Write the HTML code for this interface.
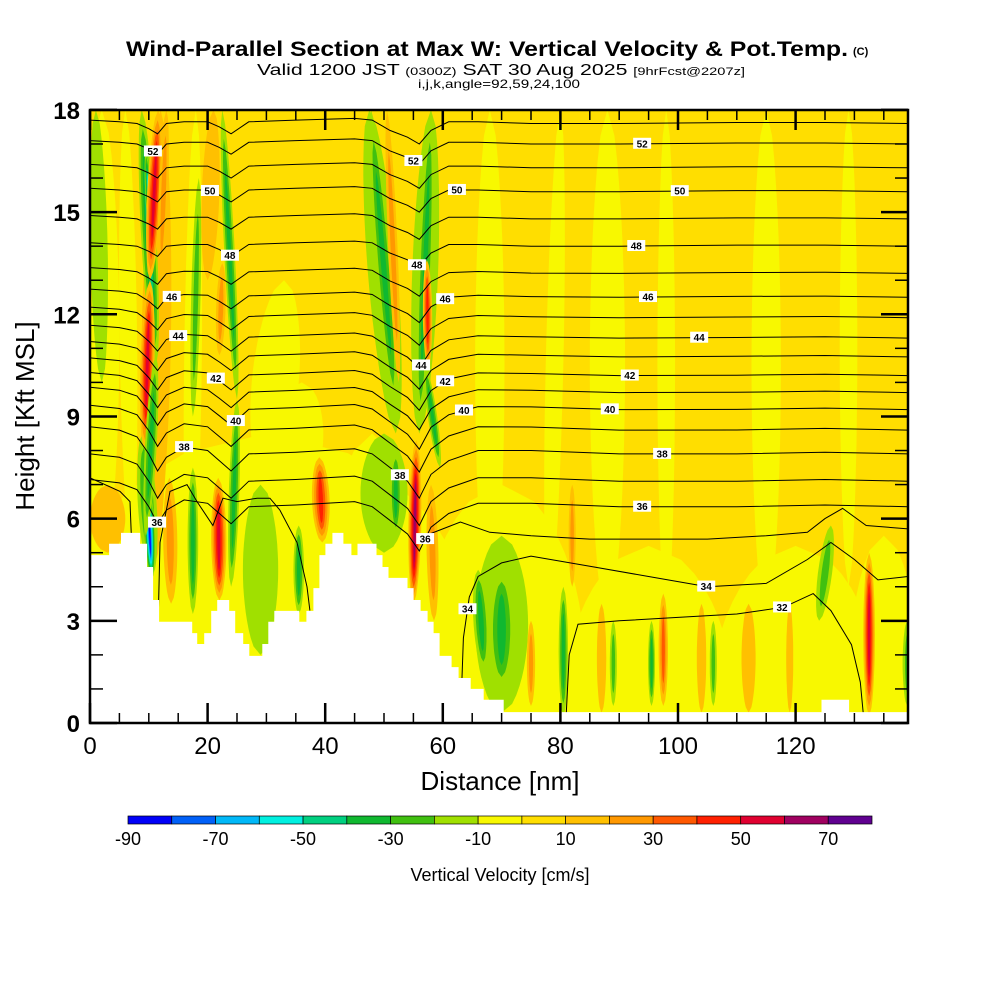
<!DOCTYPE html>
<html><head><meta charset="utf-8">
<style>
html,body{margin:0;padding:0;background:#fff;}
svg{display:block;font-family:"Liberation Sans",sans-serif;}
</style></head>
<body>
<svg id="chart" width="1000" height="1000" viewBox="0 0 1000 1000" xmlns="http://www.w3.org/2000/svg">
<defs><clipPath id="plotclip"><rect x="90" y="110" width="818" height="613"/></clipPath></defs>
<text x="126" y="56" font-size="21" font-weight="bold" textLength="722" lengthAdjust="spacingAndGlyphs">Wind-Parallel Section at Max W: Vertical Velocity &amp; Pot.Temp.</text>
<text x="853" y="55" font-size="11" font-weight="bold">(C)</text>
<text x="257" y="75" font-size="16" textLength="488" lengthAdjust="spacingAndGlyphs">Valid 1200 JST <tspan font-size="11">(0300Z)</tspan> SAT 30 Aug 2025 <tspan font-size="11">[9hrFcst@2207z]</tspan></text>
<text x="418" y="88" font-size="12" textLength="162" lengthAdjust="spacingAndGlyphs">i,j,k,angle=92,59,24,100</text>
<g id="field" clip-path="url(#plotclip)"></g>
<g id="contours" clip-path="url(#plotclip)"></g>
<g id="terrain" clip-path="url(#plotclip)"></g>
<g id="labels" clip-path="url(#plotclip)"></g>
<rect x="90" y="110" width="818" height="613" fill="none" stroke="#000" stroke-width="2.5"/>
<g id="axes"></g>
<text x="500" y="790" font-size="26" text-anchor="middle">Distance [nm]</text>
<text x="0" y="0" font-size="26" text-anchor="middle" transform="translate(34,416) rotate(-90)">Height [Kft MSL]</text>
<g id="colorbar"></g>
<text x="500" y="881" font-size="18" text-anchor="middle">Vertical Velocity [cm/s]</text>
</svg>
<script>
// ---- colour scale ----
const binColors = ['#0000f8','#0060f8','#00b8f8','#00f0e0','#00d080','#10b830','#40c010','#a0e000','#f8f800','#ffde00','#ffc000','#ff9800','#ff5800','#ff2000','#e00030','#a00060','#600090'];
const cbTicks = [-90,-70,-50,-30,-10,10,30,50,70];
// ---- terrain (step starts in nm, height kft) ----
const terrX = [0,3.24,5.28,8.52,9.71,10.73,11.75,17.38,18.23,19.42,20.61,21.64,23.68,24.70,26.06,27.09,29.30,30.32,31.35,35.60,36.80,37.99,39.01,40.03,41.23,43.10,44.46,45.49,48.72,49.74,50.77,54.00,55.03,56.22,57.41,58.43,59.45,61.50,62.69,64.74,66.95,70.36,124.4,129.1];
const terrH = [4.93,5.26,5.58,5.26,4.58,3.61,2.97,2.64,2.32,2.64,3.29,3.61,3.29,2.64,2.32,1.97,2.32,2.97,3.29,2.97,3.29,3.96,4.93,5.26,5.58,5.26,4.93,5.26,4.93,4.58,4.26,3.96,3.61,3.29,2.97,2.64,1.97,1.64,1.32,1.0,0.68,0.32,0.68,0.32];
// ---- vertical velocity features (bottom x,z ; top x,z ; half-width nm ; value cm/s) ----
const fx0 = [2,7,17,30,33,68,78,88,98,115,129, 30,70,95,120,135,30,48,
  2,29,50,70,17.5,124,139,89,106,
  87,97.5,104,112,119,82,132.5,75,
  80.5,95.5,70,67,
  10.5,10.5,10.5,13.8,17.5,22,24,25,35.5,39.5,52,55,58.5,
  11.2,10.4,9.3,10.2,9.5,12,22,20,
  52,52,52.5,56,56,57.5,59.5,3];
const fz0 = [4.5,5,3,7,6,3,3,3,3,3,4, -3,-3,-3,-3,-3,-2,-2,
  10,2,5,0.3,9,3,0.5,0.5,0.5,
  0.3,0.5,0.3,0.3,0.3,4,0.2,0.5,
  0.2,0.5,1,1.5,
  4.3,4.3,4.2,3.5,3.2,3.6,4,9.5,3.2,5.3,5.5,3.5,3,
  10.5,14,8,13,5.5,13,10.8,13,
  8.5,9,10,8.5,8.5,10.4,7.5,5];
const fx1 = [2,6,18,33,36,68,80,88,98,115,129, 30,70,95,120,135,30,48,
  1,29,50,70,18.5,126,139,89,106,
  87,97.5,104,112,119,82,132.5,75,
  80.5,95.5,70,66,
  12,9,9.8,13.5,17.5,21.8,25,22.5,35.5,39,52,55.5,58,
  8.8,9.5,10.2,11.6,11.2,13,22.5,21,
  47.5,47.8,50.5,58,58,57.3,57,3];
const fz1 = [18,18,18,13,10,18,18,18,18,18,18, 8.5,7,5.2,5.2,5.5,7,8.5,
  18,7,8.5,5.5,16,5.8,3,3,3,
  3.5,3.8,3.5,3.5,3.5,7,5,3,
  4,3,4.5,4.5,
  18,8.5,7,7.2,7.5,7.2,9.5,18,5.8,7.8,8,8.3,7,
  18,16.8,13,18,10.8,18,13.5,18,
  18,18,18,18,18,13.6,10.5,7];
const fw = [3,1.5,1.5,4,5,2.5,1.5,3,1.5,2.5,1.5, 35,14,14,14,6,10,8,
  1.5,3,4,4.5,0.8,1.2,0.8,0.6,0.6,
  0.8,0.8,0.8,1.2,0.6,0.6,1.0,0.7,
  0.8,0.6,2.2,1.3,
  2.5,1.6,0.9,1.2,0.9,1.3,0.9,0.9,0.9,1.5,1,1.1,1,
  1.3,0.5,1.2,1.2,1.0,0.8,0.8,1.5,
  2.5,1.3,0.8,2.2,1.2,0.8,0.8,3];
const fv = [-5,-5,-5,-5,-5,-5,-5,-5,-5,-5,-5, -5,-5,-5,-5,-5,-5,-5,
  -15,-15,-15,-15,-20,-25,-20,-20,-20,
  15,35,15,15,15,20,55,20,
  -35,-30,-30,-30,
  15,-35,-80,25,-35,55,-35,-30,-35,40,-30,65,20,
  -40,-55,55,55,-35,25,20,15,
  -15,-35,20,-15,-35,40,-35,15];
// ---- potential temperature contours ----
const levels = [36,37,38,39,40,41,42,43,44,45,46,47,48,49,50,51,52,53];
const baseZ = [6.35,7.1,7.9,8.6,9.2,9.7,10.2,10.75,11.3,11.9,12.5,13.2,14.0,14.8,15.6,16.3,17.0,17.6];
const lowWeight = [1,1,1,0.9,0.8,0.7,0.6,0.5,0.4,0.3,0.2,0.1,0,0,0,0,0,0];
const profX = [0,5,8,10,11.5,13,16,20,22,24,27,35,45,48,51,54,56,58,61,66,75,90,110,125,139.2];
const profUp = [0.1,0.05,0,-0.15,-0.3,0,0.05,0.05,-0.1,-0.3,0.05,0.1,0.15,0.1,-0.2,-0.4,-0.6,-0.2,0.05,0.05,0,0,0.03,0.03,0];
const profLow = [0.8,0.7,0.5,0,-0.5,-0.1,0.2,0.1,-0.2,-0.5,0,0.05,0.15,0,-0.4,-0.8,-1.3,-0.6,-0.2,0.1,0.1,0,0,0.05,0];
const l35aX = [0,5.1,6.8,7,7.2], l35aZ = [7.2,6.8,6.5,5.6,5.4];
const l35bX = [11.6,11.9,13.6,16.5,18.2,20.9,22.6,25,28.4,30.6,32.3,35.2,36.9,37.4], l35bZ = [3.0,5.3,6.8,7.0,6.5,5.8,6.6,6.5,6.6,6.6,6.25,5.3,4.0,3.3];
const l35cX = [57,60,63,68,75,85,95,105,115,122,125,128,132,139.2], l35cZ = [5.5,5.7,5.9,5.6,5.5,5.4,5.4,5.4,5.5,5.6,6.0,6.3,5.8,5.7];
const l34X = [63.2,63.5,64.5,66,70,75,85,95,105,115,122,126,130,134,139.2], l34Z = [1.0,2.5,3.7,4.3,4.7,4.9,4.6,4.3,4.0,4.1,4.8,5.3,4.8,4.2,4.3];
const l32X = [81,81.5,83,90,100,110,118,123,126,129.5,131,131.5], l32Z = [0.3,2.0,2.9,3.0,3.1,3.2,3.4,3.8,3.3,2.3,1.2,0.3];
const labLevel = [52,52,52,50,50,50,48,48,48,46,46,46,44,44,44,42,42,42,40,40,40,38,38,38,36,36,36];
const labX = [10.7,55,93.9,20.4,62.4,100.3,23.8,55.6,92.9,13.9,60.4,94.9,15,56.3,103.6,21.4,60.4,91.8,24.8,63.6,88.4,16,52.7,97.3,11.4,57,93.9];
const labLowText = ['34','34','32'];
const labLowX = [64.2,104.8,117.7];
// ---- axes ----
const xTicks = [0,20,40,60,80,100,120];
const yTicks = [0,3,6,9,12,15,18];

const NS='http://www.w3.org/2000/svg';
const X = n => 90 + n*5.88;
const Y = k => 723 - k*34.06;
function colorFor(v){let i=Math.floor((v+90)/10);i=Math.max(0,Math.min(16,i));return binColors[i];}
function mk(tag, parent, attrs){const e=document.createElementNS(NS,tag);for(const k in attrs)e.setAttribute(k,attrs[k]);parent.appendChild(e);return e;}
function interp(xs,zs,x){if(x<=xs[0])return zs[0];for(let i=1;i<xs.length;i++){if(x<=xs[i]){const t=(x-xs[i-1])/(xs[i]-xs[i-1]);return zs[i-1]+t*(zs[i]-zs[i-1]);}}return zs[zs.length-1];}

const field=document.getElementById('field');
const bg=mk('rect',field,{x:90,y:110,width:818,height:613,fill:colorFor(5)});


for(let i=0;i<fv.length;i++){
  const v=fv[i],s=Math.sign(v),a=Math.abs(v);
  const vals=[];
  if(a<10)vals.push(v);else for(let L=15;L<=a+5;L+=10)vals.push(s*L);
  const n=vals.length;
  for(let k=0;k<n;k++){
    const f=(n-k)/n, sh=0.4+0.6*f;
    const left=[],right=[];
    for(let j=0;j<=20;j++){
      const t=0.5+(j/20-0.5)*sh;
      const xc=fx0[i]+(fx1[i]-fx0[i])*t, zc=fz0[i]+(fz1[i]-fz0[i])*t;
      const w=fw[i]*f*Math.pow(Math.max(0,Math.sin(Math.PI*j/20)),0.5);
      left.push(X(xc-w).toFixed(1)+','+Y(zc).toFixed(1));
      right.unshift(X(xc+w).toFixed(1)+','+Y(zc).toFixed(1));
    }
    const p=mk('polygon',field,{points:left.concat(right).join(' '),fill:colorFor(vals[k])});
    
    
  }
}
const cg=document.getElementById('contours');
const levelLines=[];
for(let j=0;j<levels.length;j++){
  const zs=profX.map((x,i)=>baseZ[j]+(1-lowWeight[j])*profUp[i]+lowWeight[j]*profLow[i]);
  levelLines.push(zs);
  const pl=mk('polyline',cg,{points:profX.map((x,i)=>X(x).toFixed(1)+','+Y(zs[i]).toFixed(1)).join(' '),fill:'none',stroke:'#000','stroke-width':1});
  
  
}
[[l35aX,l35aZ,'35'],[l35bX,l35bZ,'35'],[l35cX,l35cZ,'35'],[l34X,l34Z,'34'],[l32X,l32Z,'32']].forEach(d=>{
  const pl=mk('polyline',cg,{points:d[0].map((x,i)=>X(x).toFixed(1)+','+Y(d[1][i]).toFixed(1)).join(' '),fill:'none',stroke:'#000','stroke-width':1});
  
  
});
const tg=document.getElementById('terrain');
let pts=[X(0)+','+Y(0)];
for(let i=0;i<terrX.length;i++){const xe=i+1<terrX.length?terrX[i+1]:139.2;pts.push(X(terrX[i]).toFixed(1)+','+Y(terrH[i]).toFixed(1));pts.push(X(xe).toFixed(1)+','+Y(terrH[i]).toFixed(1));}
pts.push(X(139.2)+','+Y(0));
const tp=mk('polygon',tg,{points:pts.join(' '),fill:'#fff'});


const lg=document.getElementById('labels');
function addLabel(txt,x,z){
  const g=mk('g',lg,{});
  
  
  mk('rect',g,{x:X(x)-9,y:Y(z)-6,width:18,height:11,fill:'#fff'});
  const t=mk('text',g,{x:X(x),y:Y(z)+3.5,'font-size':10,'font-weight':'bold','text-anchor':'middle'});
  t.textContent=txt;
}
for(let i=0;i<labLevel.length;i++){const j=levels.indexOf(labLevel[i]);addLabel(String(labLevel[i]),labX[i],interp(profX,levelLines[j],labX[i]));}
addLabel(labLowText[0],labLowX[0],interp(l34X,l34Z,labLowX[0]));
addLabel(labLowText[1],labLowX[1],interp(l34X,l34Z,labLowX[1]));
addLabel(labLowText[2],labLowX[2],interp(l32X,l32Z,labLowX[2]));
const ax=document.getElementById('axes');
for(let n=0;n<=135;n+=5){
  const major=n%20===0, L=major?20:10;
  const t1=mk('line',ax,{x1:X(n),x2:X(n),y1:723,y2:723-L,stroke:'#000','stroke-width':major?2.5:1.5});
  
  
  const t2=mk('line',ax,{x1:X(n),x2:X(n),y1:110,y2:110+L,stroke:'#000','stroke-width':major?2.5:1.5});
  
  
}
for(let k=0;k<=18;k++){
  const major=k%3===0, L=major?27:13;
  const t1=mk('line',ax,{x1:90,x2:90+L,y1:Y(k),y2:Y(k),stroke:'#000','stroke-width':major?2.5:1.5});
  
  
  const t2=mk('line',ax,{x1:908,x2:908-L,y1:Y(k),y2:Y(k),stroke:'#000','stroke-width':major?2.5:1.5});
  
  
}
xTicks.forEach(n=>{const t=mk('text',ax,{x:X(n),y:754,'font-size':24,'text-anchor':'middle'});t.textContent=n;});
yTicks.forEach(k=>{const t=mk('text',ax,{x:80,y:Y(k)+9,'font-size':24,'font-weight':'bold','text-anchor':'end'});t.textContent=k;});
const cb=document.getElementById('colorbar');
const cbx0=128, cbw=(872-128)/17;
for(let i=0;i<17;i++){
  const r=mk('rect',cb,{x:cbx0+i*cbw,y:816,width:cbw,height:8,fill:binColors[i],stroke:'#000','stroke-width':0.7});
  
  
}
cbTicks.forEach(v=>{const t=mk('text',cb,{x:cbx0+(v+90)/10*cbw,y:845,'font-size':18,'text-anchor':'middle'});t.textContent=v;});
</script>
</body></html>
